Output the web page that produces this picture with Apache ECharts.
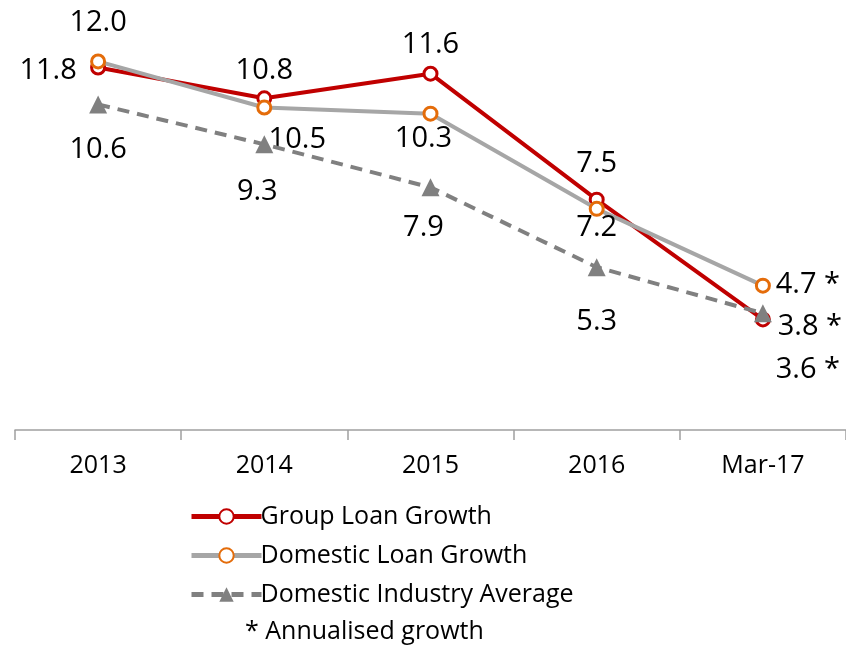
<!DOCTYPE html>
<html><head><meta charset="utf-8">
<script src="https://cdn.jsdelivr.net/npm/echarts@6/dist/echarts.min.js"></script>
<style>html,body{margin:0;padding:0;background:#fff}#c{width:846px;height:645px}</style>
</head><body><div id="c"></div>
<script>
const categories = ['2013', '2014', '2015', '2016', 'Mar-17'];
const groupLoan = [11.8, 10.8, 11.6, 7.5, 3.6];
const domesticLoan = [12.0, 10.5, 10.3, 7.2, 4.7];
const industryAvg = [10.6, 9.3, 7.9, 5.3, 3.8];
const seriesNames = ['Group Loan Growth', 'Domestic Loan Growth', 'Domestic Industry Average'];
const footnote = '* Annualised growth';

const FONT = '"Open Sans"';
const groupOffsets = [[-50, 3], [0, -28], [0, -29], [0, -36], [45, 50]];
const domesticOffsets = [[0, -39], [33, 32], [-7, 25], [0, 19], [45, -1]];
const industryOffsets = [[0, 45], [-7, 47], [-7, 40], [0, 55], [47, 13]];

function mk(vals, offs) {
  return vals.map((v, i) => ({
    value: v,
    label: {
      show: true, position: 'inside', offset: offs[i],
      formatter: (p) => p.value.toFixed(1) + (i === 4 ? ' *' : ''),
      color: '#000', fontSize: 29, fontFamily: FONT
    }
  }));
}

const chart = echarts.init(document.getElementById('c'));
chart.setOption({
  animation: false,
  grid: { left: 15, right: -5, top: 0, bottom: 215 },
  xAxis: {
    type: 'category', data: categories, boundaryGap: true,
    axisLine: { lineStyle: { color: '#A0A0A0', width: 1.5 } },
    axisTick: { show: true, length: 10, lineStyle: { color: '#A0A0A0', width: 1.5 } },
    axisLabel: { color: '#000', fontSize: 25, fontFamily: FONT, margin: 23 }
  },
  yAxis: { type: 'value', min: 0, max: 14, show: false, splitLine: { show: false } },
  legend: {
    orient: 'vertical', left: 184, top: 499, itemWidth: 70, itemHeight: 18, itemGap: 14,
    lineStyle: { width: 5 },
    textStyle: { color: '#000', fontSize: 25, fontFamily: FONT, padding: [0, 0, 0, -6] },
    data: seriesNames
  },
  graphic: [{
    type: 'text', left: 245, top: 619,
    style: { text: footnote, fill: '#000', font: '25px "Open Sans"' }
  }],
  series: [
    {
      name: seriesNames[1], type: 'line', data: mk(domesticLoan, domesticOffsets), z: 3,
      symbol: 'circle', symbolSize: 13,
      lineStyle: { color: '#A6A6A6', width: 4 },
      itemStyle: { color: '#fff', borderColor: '#E46C0A', borderWidth: 3 }
    },
    {
      name: seriesNames[0], type: 'line', data: mk(groupLoan, groupOffsets), z: 2,
      symbol: 'circle', symbolSize: 13,
      lineStyle: { color: '#C00000', width: 4 },
      itemStyle: { color: '#fff', borderColor: '#C00000', borderWidth: 3 }
    },
    {
      name: seriesNames[2], type: 'line', data: mk(industryAvg, industryOffsets), z: 4,
      symbol: 'triangle', symbolSize: 18,
      lineStyle: { color: '#808080', width: 4, type: [12, 8] },
      itemStyle: { color: '#808080', borderWidth: 0 }
    }
  ]
});
</script></body></html>
